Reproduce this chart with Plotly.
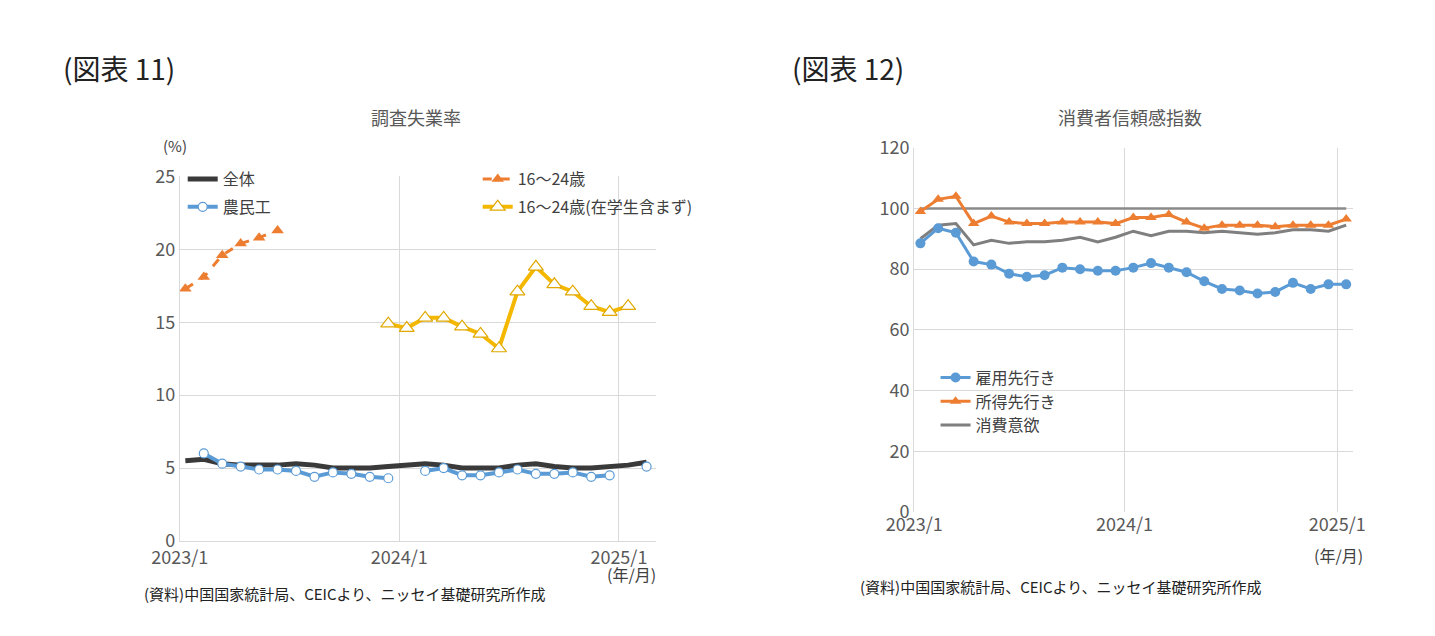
import plotly.graph_objects as go
from plotly.subplots import make_subplots

FONT = "Noto Sans CJK JP"

# left chart: months indexed from 2023/1 = 0
total_x = list(range(26))
total = [5.5, 5.6, 5.3, 5.2, 5.2, 5.2, 5.3, 5.2, 5.0, 5.0, 5.0, 5.1, 5.2,
         5.3, 5.2, 5.0, 5.0, 5.0, 5.2, 5.3, 5.1, 5.0, 5.0, 5.1, 5.2, 5.4]
migrant_x = [1, 2, 3, 4, 5, 6, 7, 8, 9, 10, 11, None,
             13, 14, 15, 16, 17, 18, 19, 20, 21, 22, 23, None, 25]
migrant = [6.0, 5.3, 5.1, 4.9, 4.9, 4.8, 4.4, 4.7, 4.6, 4.4, 4.3, None,
           4.8, 5.0, 4.5, 4.5, 4.7, 4.9, 4.6, 4.6, 4.7, 4.4, 4.5, None, 5.1]
youth_x = list(range(6))
youth = [17.3, 18.1, 19.6, 20.4, 20.8, 21.3]
youth2_x = list(range(11, 25))
youth2 = [14.9, 14.6, 15.3, 15.3, 14.7, 14.2, 13.2, 17.1, 18.8, 17.6, 17.1, 16.1, 15.7, 16.1]

# right chart
conf_x = list(range(25))
employment = [88.5, 93.5, 92, 82.5, 81.5, 78.5, 77.5, 78, 80.5, 80, 79.5, 79.5, 80.5,
              82, 80.5, 79, 76, 73.5, 73, 72, 72.5, 75.5, 73.5, 75, 75]
income = [99, 103, 104, 95, 97.5, 95.5, 95, 95, 95.5, 95.5, 95.5, 95, 97, 97, 98,
          95.5, 93.5, 94.5, 94.5, 94.5, 94, 94.5, 94.5, 94.5, 96.5]
consume = [90, 94.5, 95, 88, 89.5, 88.5, 89, 89, 89.5, 90.5, 89, 90.5, 92.5, 91, 92.5,
           92.5, 92, 92.5, 92, 91.5, 92, 93, 93, 92.5, 94.5]
baseline = [100] * 25

fig = make_subplots(rows=1, cols=2)

fig.add_trace(go.Scatter(x=total_x, y=total, name="全体", mode="lines", legend="legend",
                         line=dict(color="#3a3a3a", width=5)), 1, 1)
fig.add_trace(go.Scatter(x=youth_x, y=youth, name="16～24歳", mode="lines+markers", legend="legend",
                         line=dict(color="#ed7d31", width=3, dash="dash"),
                         marker=dict(symbol="triangle-up", size=11, color="#ed7d31")), 1, 1)
fig.add_trace(go.Scatter(x=migrant_x, y=migrant, name="農民工", mode="lines+markers",
                         legend="legend3", connectgaps=False,
                         line=dict(color="#5b9bd5", width=4),
                         marker=dict(symbol="circle", size=9, color="white",
                                     line=dict(color="#5b9bd5", width=1.2))), 1, 1)
fig.add_trace(go.Scatter(x=youth2_x, y=youth2, name="16～24歳(在学生含まず)", mode="lines+markers",
                         legend="legend3",
                         line=dict(color="#f5b800", width=4),
                         marker=dict(symbol="triangle-up", size=13, color="white",
                                     line=dict(color="#e0a800", width=1.2))), 1, 1)

fig.add_trace(go.Scatter(x=conf_x, y=baseline, mode="lines", showlegend=False,
                         line=dict(color="#8a8a8a", width=2.5)), 1, 2)
fig.add_trace(go.Scatter(x=conf_x, y=consume, name="消費意欲", mode="lines", legend="legend2",
                         legendrank=3, line=dict(color="#7f7f7f", width=3)), 1, 2)
fig.add_trace(go.Scatter(x=conf_x, y=income, name="所得先行き", mode="lines+markers", legend="legend2",
                         legendrank=2, line=dict(color="#ed7d31", width=3),
                         marker=dict(symbol="triangle-up", size=10, color="#ed7d31")), 1, 2)
fig.add_trace(go.Scatter(x=conf_x, y=employment, name="雇用先行き", mode="lines+markers",
                         legend="legend2", legendrank=1,
                         line=dict(color="#5b9bd5", width=3),
                         marker=dict(symbol="circle", size=10, color="#5b9bd5")), 1, 2)

leg_font = dict(size=16, color="#404040", family=FONT)
fig.update_layout(
    width=1435, height=636, plot_bgcolor="white", paper_bgcolor="white",
    font=dict(family=FONT, color="#595959", size=16),
    margin=dict(l=0, r=0, t=0, b=0),
    showlegend=True,
    legend=dict(x=150/1435, y=1-145/636, xanchor="left", yanchor="top", orientation="h",
                entrywidth=250, bgcolor="rgba(0,0,0,0)", font=leg_font),
    legend3=dict(x=150/1435, y=1-174/636, xanchor="left", yanchor="top", orientation="h",
                 entrywidth=250, bgcolor="rgba(0,0,0,0)", font=leg_font),
    legend2=dict(x=925/1435, y=1-352/636, xanchor="left", yanchor="top", orientation="v",
                 bgcolor="rgba(0,0,0,0)", font=leg_font, tracegroupgap=0,
                 traceorder="normal"),
)
fig.update_xaxes(domain=[147/1435, 637/1435], row=1, col=1)
fig.update_yaxes(domain=[1-540/636, 1-160/636], row=1, col=1)
fig.update_xaxes(domain=[903/1435, 1355/1435], row=1, col=2)
fig.update_yaxes(domain=[1-510/636, 1-130/636], row=1, col=2)

ax = dict(showgrid=True, gridcolor="#d9d9d9", zeroline=False, showline=True, linecolor="#d9d9d9",
          ticks="", tickfont=dict(size=18, color="#595959"))
fig.update_xaxes(range=[-0.3, 25.5], tickvals=[-0.3, 11.6, 23.5],
                 ticktext=["2023/1", "2024/1", "2025/1"], row=1, col=1, **ax)
fig.update_yaxes(range=[0, 25], dtick=5, row=1, col=1, **ax)
fig.update_xaxes(range=[-0.35, 24.4], tickvals=[-0.35, 11.5, 23.5],
                 ticktext=["2023/1", "2024/1", "2025/1"], row=1, col=2, **ax)
fig.update_yaxes(range=[0, 120], dtick=20, row=1, col=2, **ax)
fig.update_xaxes(showline=False, row=1, col=2)

texts = [
    ("(図表 11)", 25, 47, 28, "#222", "left"),
    ("(図表 12)", 775, 47, 28, "#222", "left"),
    ("調査失業率", 390, 98, 18, "#595959", "center"),
    ("消費者信頼感指数", 1125, 98, 18, "#595959", "center"),
    ("(%)", 128, 128, 15, "#404040", "left"),
    ("(年/月)", 612, 575, 16, "#404040", "center"),
    ("(年/月)", 1340, 555, 16, "#404040", "center"),
    ("(資料)中国国家統計局、CEICより、ニッセイ基礎研究所作成", 108, 595, 15, "#222", "left"),
    ("(資料)中国国家統計局、CEICより、ニッセイ基礎研究所作成", 845, 587, 15, "#222", "left"),
]
for t, x, y, s, c, anc in texts:
    fig.add_annotation(text=t, xref="paper", yref="paper", x=x/1435, y=1-y/636,
                       xanchor=anc, yanchor="middle", showarrow=False,
                       font=dict(size=s, color=c, family=FONT))

fig.write_html("out.html")
